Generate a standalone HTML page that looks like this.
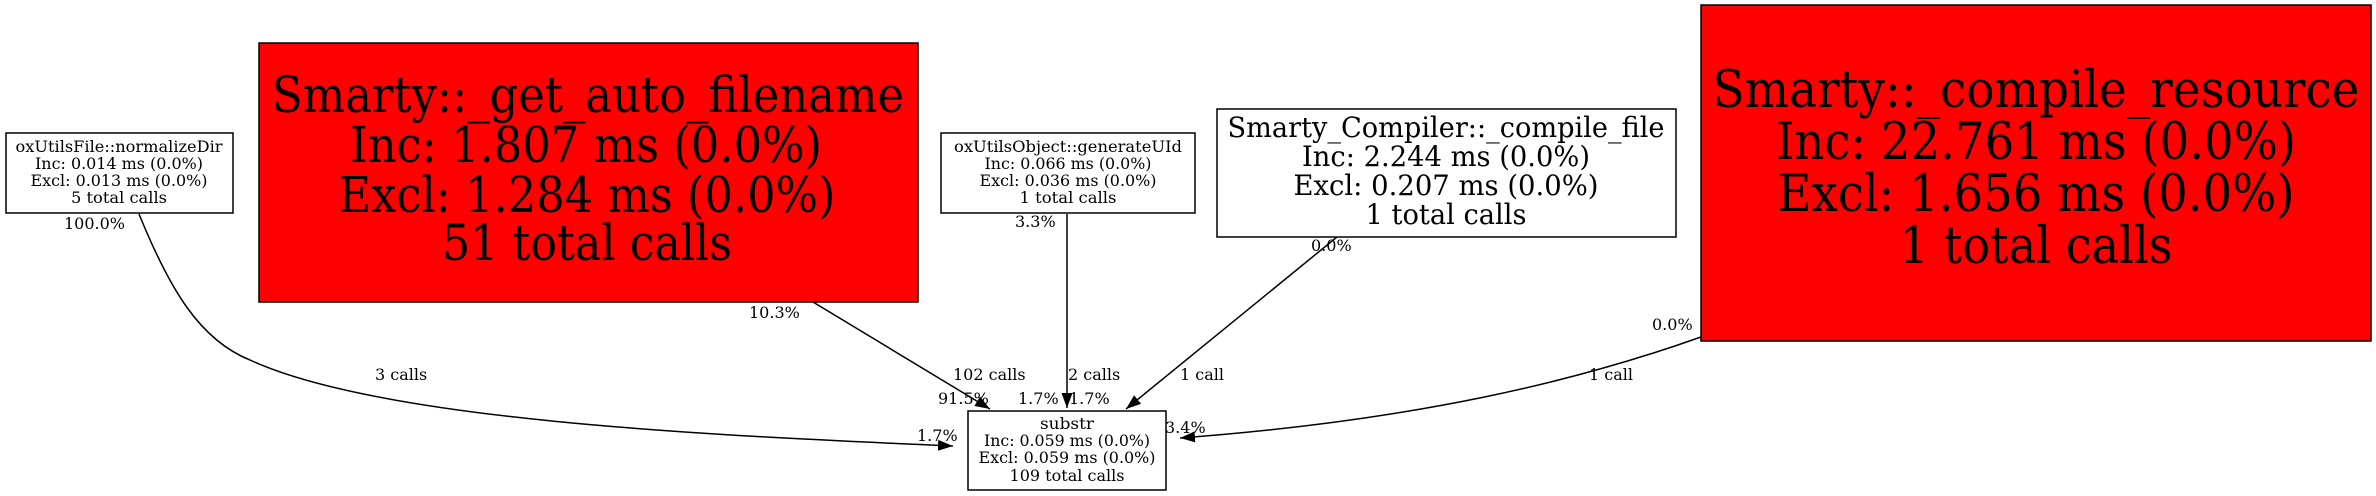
<!DOCTYPE html>
<html><head><meta charset="utf-8"><style>
html,body{margin:0;padding:0;background:#fff;}
svg{display:block;}
text{font-family:"DejaVu Serif","Liberation Serif",serif;fill:#000;}
</style></head><body>
<svg width="2376" height="496" viewBox="0 0 2376 496" xmlns="http://www.w3.org/2000/svg">
<defs>
<marker id="b" markerWidth="15" markerHeight="11" refX="15" refY="5.5" orient="auto" markerUnits="userSpaceOnUse" viewBox="0 0 15 11">
<path d="M0,0 L15,5.5 L0,11 z" fill="#000"/></marker>
</defs>
<g fill="none" stroke="#000" stroke-width="1.5">
<path d="M139,214 C170,290 200,340 250,360 C380,420 700,435 953,446" marker-end="url(#b)"/>
<path d="M813,302 L990,409" marker-end="url(#b)"/>
<path d="M1067,214 L1067,408" marker-end="url(#b)"/>
<path d="M1337,237 L1126,409" marker-end="url(#b)"/>
<path d="M1701,337 C1580,380 1420,420 1180,438" marker-end="url(#b)"/>
</g>
<rect x="6" y="133" width="227" height="80" fill="#fff" stroke="#000" stroke-width="1.5"/>
<g font-size="16" text-anchor="middle" lengthAdjust="spacingAndGlyphs">
<text x="119" y="152" textLength="207" lengthAdjust="spacingAndGlyphs">oxUtilsFile::normalizeDir</text>
<text x="119" y="169" textLength="168" lengthAdjust="spacingAndGlyphs">Inc: 0.014 ms (0.0%)</text>
<text x="119" y="186" textLength="177" lengthAdjust="spacingAndGlyphs">Excl: 0.013 ms (0.0%)</text>
<text x="119" y="203" textLength="96" lengthAdjust="spacingAndGlyphs">5 total calls</text>
</g>
<rect x="259" y="43" width="659" height="259" fill="#f00" stroke="#000" stroke-width="1.5"/>
<g font-size="50" text-anchor="middle">
<text x="588" y="112" textLength="632" lengthAdjust="spacingAndGlyphs">Smarty::_get_auto_filename</text>
<text x="586" y="162" textLength="472" lengthAdjust="spacingAndGlyphs">Inc: 1.807 ms (0.0%)</text>
<text x="587" y="212" textLength="497" lengthAdjust="spacingAndGlyphs">Excl: 1.284 ms (0.0%)</text>
<text x="587" y="260" textLength="290" lengthAdjust="spacingAndGlyphs">51 total calls</text>
</g>
<rect x="941" y="133" width="254" height="80" fill="#fff" stroke="#000" stroke-width="1.5"/>
<g font-size="16" text-anchor="middle">
<text x="1068" y="152" textLength="228" lengthAdjust="spacingAndGlyphs">oxUtilsObject::generateUId</text>
<text x="1068" y="169" textLength="167" lengthAdjust="spacingAndGlyphs">Inc: 0.066 ms (0.0%)</text>
<text x="1068" y="186" textLength="177" lengthAdjust="spacingAndGlyphs">Excl: 0.036 ms (0.0%)</text>
<text x="1068" y="203" textLength="97" lengthAdjust="spacingAndGlyphs">1 total calls</text>
</g>
<rect x="1217" y="109" width="459" height="128" fill="#fff" stroke="#000" stroke-width="1.5"/>
<g font-size="28" text-anchor="middle">
<text x="1446" y="137" textLength="437" lengthAdjust="spacingAndGlyphs">Smarty_Compiler::_compile_file</text>
<text x="1446" y="166" textLength="288" lengthAdjust="spacingAndGlyphs">Inc: 2.244 ms (0.0%)</text>
<text x="1446" y="195" textLength="305" lengthAdjust="spacingAndGlyphs">Excl: 0.207 ms (0.0%)</text>
<text x="1446" y="224" textLength="161" lengthAdjust="spacingAndGlyphs">1 total calls</text>
</g>
<rect x="1701" y="5" width="670" height="336" fill="#f00" stroke="#000" stroke-width="1.5"/>
<g font-size="51" text-anchor="middle">
<text x="2036" y="107" textLength="647" lengthAdjust="spacingAndGlyphs">Smarty::_compile_resource</text>
<text x="2036" y="159" textLength="520" lengthAdjust="spacingAndGlyphs">Inc: 22.761 ms (0.0%)</text>
<text x="2036" y="211" textLength="517" lengthAdjust="spacingAndGlyphs">Excl: 1.656 ms (0.0%)</text>
<text x="2036" y="263" textLength="273" lengthAdjust="spacingAndGlyphs">1 total calls</text>
</g>
<rect x="968" y="411" width="198" height="79" fill="#fff" stroke="#000" stroke-width="1.5"/>
<g font-size="16" text-anchor="middle">
<text x="1067" y="429" textLength="54" lengthAdjust="spacingAndGlyphs">substr</text>
<text x="1067" y="446" textLength="166" lengthAdjust="spacingAndGlyphs">Inc: 0.059 ms (0.0%)</text>
<text x="1067" y="463" textLength="177" lengthAdjust="spacingAndGlyphs">Excl: 0.059 ms (0.0%)</text>
<text x="1067" y="481" textLength="115" lengthAdjust="spacingAndGlyphs">109 total calls</text>
</g>
<g font-size="16">
<text x="64" y="229">100.0%</text>
<text x="375" y="380">3 calls</text>
<text x="917" y="441">1.7%</text>
<text x="749" y="318">10.3%</text>
<text x="953" y="380">102 calls</text>
<text x="938" y="404">91.5%</text>
<text x="1015" y="227">3.3%</text>
<text x="1068" y="380">2 calls</text>
<text x="1018" y="404">1.7%</text>
<text x="1069" y="404">1.7%</text>
<text x="1311" y="251">0.0%</text>
<text x="1180" y="380">1 call</text>
<text x="1652" y="330">0.0%</text>
<text x="1589" y="380">1 call</text>
<text x="1165" y="433">3.4%</text>
</g>
</svg>
</body></html>
